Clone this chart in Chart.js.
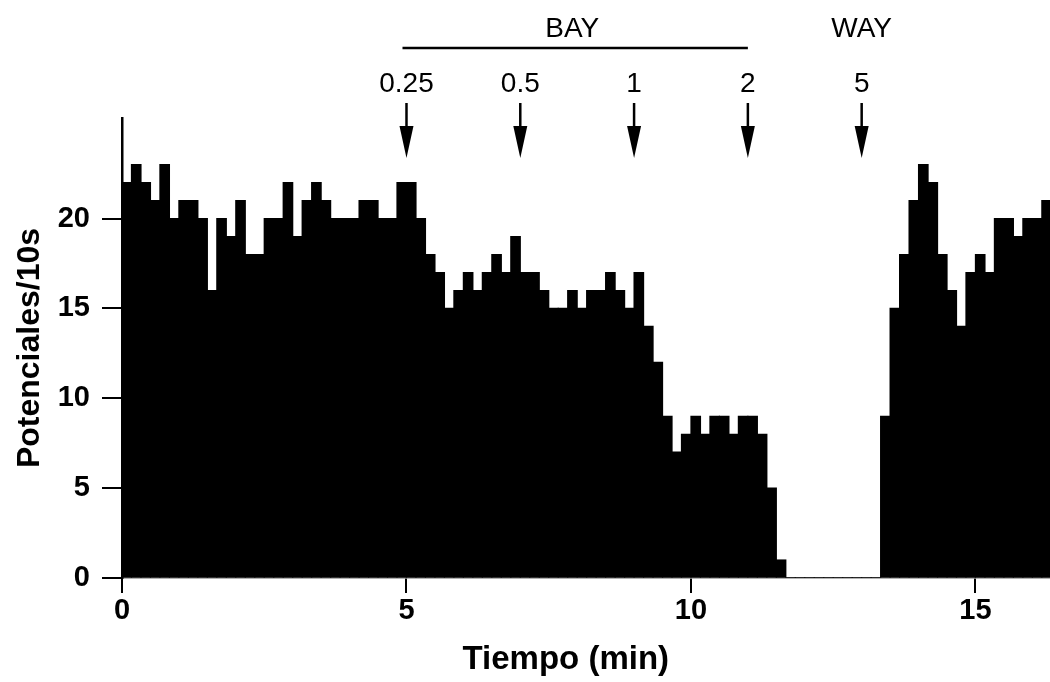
<!DOCTYPE html>
<html>
<head>
<meta charset="utf-8">
<script src="https://cdn.jsdelivr.net/npm/chart.js@4/dist/chart.umd.min.js"></script>
<style>
  html, body { margin: 0; padding: 0; background: #fff; }
  #histogram { display: block; }
</style>
</head>
<body>
<canvas id="histogram" width="1050" height="682"></canvas>
<script>
// spikes counted per 10 s bin (Potenciales/10s)
binWidthMin = 1 / 6
spikeCounts = [
  22, 23, 22, 21, 23, 20, 21, 21, 20, 16,
  20, 19, 21, 18, 18, 20, 20, 22, 19, 21,
  22, 21, 20, 20, 20, 21, 21, 20, 20, 22,
  22, 20, 18, 17, 15, 16, 17, 16, 17, 18,
  17, 19, 17, 17, 16, 15, 15, 16, 15, 16,
  16, 17, 16, 15, 17, 14, 12, 9, 7, 8,
  9, 8, 9, 9, 8, 9, 9, 8, 5, 1,
  0, 0, 0, 0, 0, 0, 0, 0, 0, 0,
  9, 15, 18, 21, 23, 22, 18, 16, 14, 17,
  18, 17, 20, 20, 19, 20, 20, 21
]
xTicks = [0, 5, 10, 15]
yTicks = [0, 5, 10, 15, 20]

// BAY doses (arrows) and WAY dose
bayDoses = ['0.25', '0.5', '1', '2']
bayTimes = [5, 7, 9, 11]
wayDoses = ['5']
wayTimes = [13]

var points = spikeCounts.map(function (c, i) {
    return { x: (i + 0.5) * binWidthMin, y: c };
});

var FONT = "'Liberation Sans', Arial, sans-serif";

function drawArrow(ctx, x, yTop, yTip) {
    ctx.beginPath();
    ctx.moveTo(x, yTop);
    ctx.lineTo(x, yTip - 24);
    ctx.lineWidth = 2.5;
    ctx.stroke();
    ctx.beginPath();
    ctx.moveTo(x - 7, yTip - 32);
    ctx.lineTo(x + 7, yTip - 32);
    ctx.lineTo(x, yTip);
    ctx.closePath();
    ctx.fill();
}

var doseMarks = {
    id: 'doseMarks',
    afterDraw: function (chart) {
        var ctx = chart.ctx;
        var xs = chart.scales.x;
        ctx.save();
        ctx.fillStyle = '#000';
        ctx.strokeStyle = '#000';
        ctx.font = '28px ' + FONT;
        ctx.textAlign = 'center';
        ctx.textBaseline = 'alphabetic';

        // BAY bar and label
        var x0 = xs.getPixelForValue(bayTimes[0]);
        var x1 = xs.getPixelForValue(bayTimes[bayTimes.length - 1]);
        ctx.beginPath();
        ctx.moveTo(x0 - 4, 48);
        ctx.lineTo(x1, 48);
        ctx.lineWidth = 2.5;
        ctx.stroke();
        ctx.fillText('BAY', (x0 + x1) / 2 - 5, 37);
        ctx.fillText('WAY', xs.getPixelForValue(wayTimes[0]), 37);

        var labels = bayDoses.concat(wayDoses);
        var times = bayTimes.concat(wayTimes);
        for (var i = 0; i < labels.length; i++) {
            var px = xs.getPixelForValue(times[i]);
            ctx.fillText(labels[i], px, 92);
            drawArrow(ctx, px, 103, 158);
        }

        // x axis title, centred under the recorded span rather than the whole axis
        ctx.font = 'bold 33px ' + FONT;
        ctx.textBaseline = 'middle';
        ctx.fillText('Tiempo (min)', xs.getPixelForValue(7.8), 660);
        ctx.restore();
    }
};

new Chart(document.getElementById('histogram'), {
    type: 'bar',
    data: {
        datasets: [{
            data: points,
            backgroundColor: '#000',
            borderWidth: 0,
            inflateAmount: 0.6,
            barPercentage: 1,
            categoryPercentage: 1
        }]
    },
    options: {
        responsive: false,
        animation: false,
        maintainAspectRatio: false,
        devicePixelRatio: 1,
        layout: { padding: { top: 118, right: 0, left: 0, bottom: 0 } },
        plugins: { legend: { display: false }, tooltip: { enabled: false } },
        scales: {
            x: {
                type: 'linear',
                offset: false,
                min: 0,
                max: 16.31,
                afterBuildTicks: function (scale) {
                    scale.ticks = xTicks.map(function (v) { return { value: v }; });
                },
                afterFit: function (scale) { scale.height = 104; },
                border: { display: true, color: '#666', width: 1.5 },
                grid: { offset: false, drawOnChartArea: false, drawTicks: true, tickLength: 15, color: '#000', lineWidth: 2 },
                ticks: { color: '#000', padding: 1, maxRotation: 0, font: { family: FONT, size: 29, weight: 'bold' } },
                title: { display: false }
            },
            y: {
                min: 0,
                max: 25.6,
                afterBuildTicks: function (scale) {
                    scale.ticks = yTicks.map(function (v) { return { value: v }; });
                },
                afterFit: function (scale) { scale.width = 122; },
                border: { display: true, color: '#000', width: 2.5 },
                grid: { drawOnChartArea: false, drawTicks: true, tickLength: 20, color: '#000', lineWidth: 2 },
                ticks: { color: '#000', padding: 12, font: { family: FONT, size: 29, weight: 'bold' } },
                title: {
                    display: true,
                    text: 'Potenciales/10s',
                    color: '#000',
                    padding: { top: 11, bottom: 0 },
                    font: { family: FONT, size: 32, weight: 'bold' }
                }
            }
        }
    },
    plugins: [doseMarks]
});
</script>
</body>
</html>
